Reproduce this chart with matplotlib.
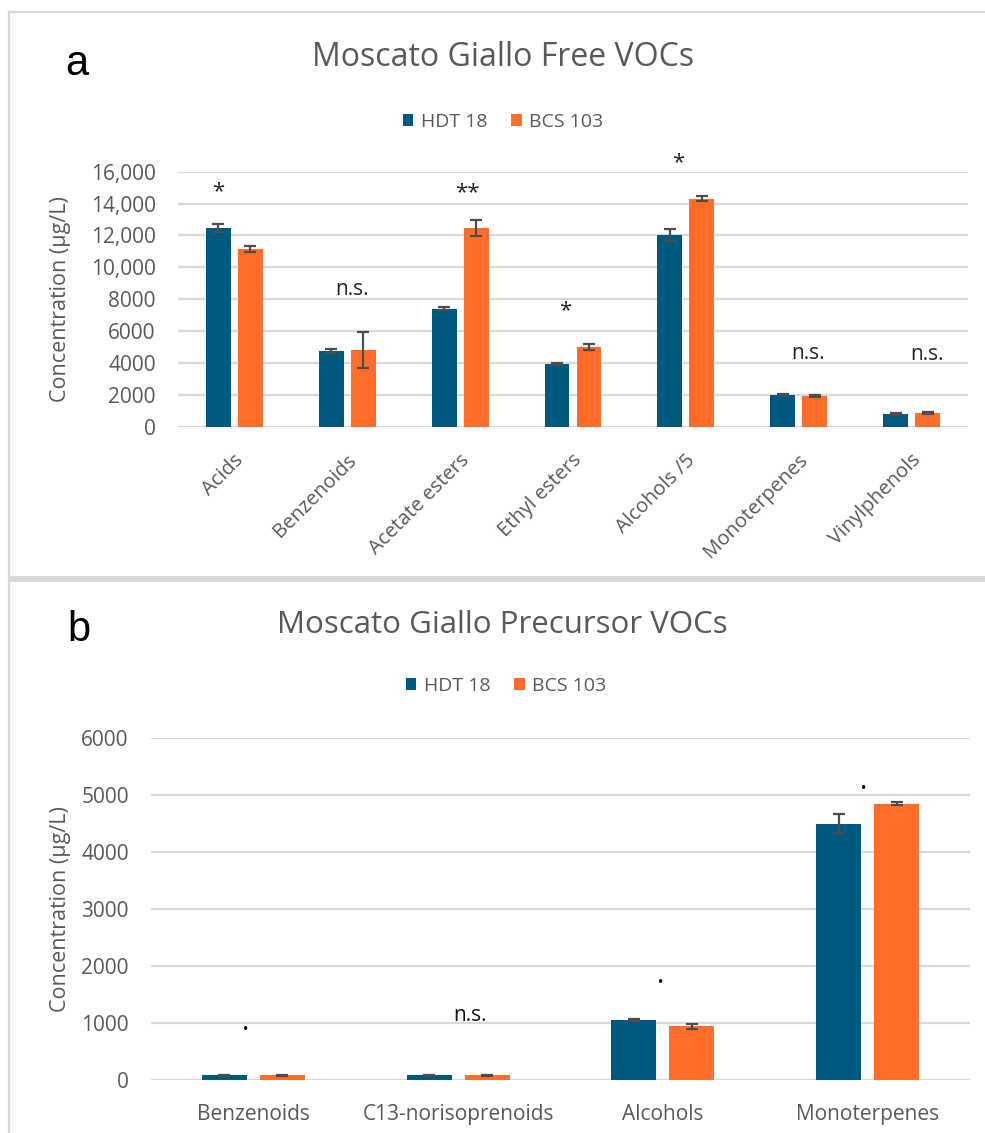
import matplotlib
matplotlib.use("Agg")
import matplotlib.pyplot as plt
import numpy as np
from matplotlib.patches import Patch, Rectangle
from matplotlib.lines import Line2D
from matplotlib.transforms import ScaledTranslation

# ---------------- data ----------------
cats_a = ["Acids", "Benzenoids", "Acetate esters", "Ethyl esters", "Alcohols /5", "Monoterpenes", "Vinylphenols"]
hdt_a = [12450, 4750, 7400, 3950, 12050, 2000, 800]
hdt_a_err = [250, 150, 80, 50, 380, 30, 40]
bcs_a = [11150, 4800, 12450, 5000, 14300, 1950, 860]
bcs_a_err = [200, 1130, 500, 170, 150, 60, 50]
sig_a = ["*", "n.s.", "**", "*", "*", "n.s.", "n.s."]
sig_a_y = [14750, 8580, 14700, 7300, 16580, 4620, 4500]
sig_a_x = [-0.14, 0.04, 0.06, -0.07, -0.07, 0.08, 0.14]

cats_b = ["Benzenoids", "C13-norisoprenoids", "Alcohols", "Monoterpenes"]
hdt_b = [80, 80, 1050, 4500]
hdt_b_err = [10, 10, 15, 160]
bcs_b = [80, 80, 940, 4850]
bcs_b_err = [12, 10, 50, 30]
sig_b = ["·", "n.s.", "·", "·"]
sig_b_y = [860, 1140, 1680, 5090]
sig_b_x = [-0.04, 0.06, -0.01, -0.02]

series = ["HDT 18", "BCS 103"]
colors = ["#005A80", "#FF6D28"]

W, H = 985, 1133
fig = plt.figure(figsize=(W / 100, H / 100), dpi=100)
fig.patch.set_facecolor("white")

FONT = "Open Sans"
GRAY = "#595959"
GRID = "#d9d9d9"


def fx(x):
    return x / W


def fy(y):
    return 1 - y / H


def make_axes(left, right, top, bottom):
    return fig.add_axes([fx(left), fy(bottom), fx(right) - fx(left), fy(top) - fy(bottom)])


def draw_bars(ax, cats, h, he, b, be, ymax, step, fmt):
    x = np.arange(len(cats))
    off, w = 0.142, 0.22
    ekw = dict(ecolor="#4d4d4d", elinewidth=1.6, capsize=4, capthick=1.6)
    ax.bar(x - off, h, w, color=colors[0], yerr=he, error_kw=ekw, zorder=3)
    ax.bar(x + off, b, w, color=colors[1], yerr=be, error_kw=ekw, zorder=3)
    ax.set_xlim(-0.5, len(cats) - 0.5)
    ax.set_ylim(0, ymax)
    ticks = np.arange(0, ymax + 1, step)
    ax.set_yticks(ticks)
    ax.set_yticklabels([fmt(t) for t in ticks], fontfamily=FONT, fontsize=15, color=GRAY)
    ax.yaxis.grid(True, color=GRID, linewidth=1.6, zorder=0)
    ax.set_axisbelow(True)
    for s in ax.spines.values():
        s.set_visible(False)
    ax.tick_params(axis="both", length=0)
    ax.tick_params(axis="y", pad=16)
    ax.set_xticks(x)
    return x


# ---------------- panel a ----------------
axa = make_axes(178, 968, 171.7, 426.7)
xa = draw_bars(axa, cats_a, hdt_a, hdt_a_err, bcs_a, bcs_a_err, 16000, 2000,
               lambda t: f"{int(t):,}" if t >= 10000 else f"{int(t)}")
axa.set_xticklabels(cats_a, rotation=45, ha="right", va="center", rotation_mode="anchor",
                    fontfamily=FONT, fontsize=14.5, color=GRAY)
axa.tick_params(axis="x", pad=22)
for lab in axa.get_xticklabels():
    lab.set_transform(lab.get_transform() + ScaledTranslation(0.06, 0, fig.dpi_scale_trans))
axa.set_ylabel("Concentration (μg/L)", fontfamily=FONT, fontsize=15.5, color=GRAY)
axa.yaxis.set_label_coords((71 - 178) / (968 - 178), 0.5)
for xi, s, yy, dx in zip(xa, sig_a, sig_a_y, sig_a_x):
    fs = 16 if "*" in s else 15
    axa.text(xi + dx, yy, s, ha="center", va="center", fontfamily=FONT, fontsize=fs, color="#222222")

fig.text(fx(503), fy(57), "Moscato Giallo Free VOCs", ha="center", va="center",
         fontfamily=FONT, fontsize=23, color=GRAY)
fig.text(fx(77), fy(64), "a", ha="center", va="center", fontfamily="Liberation Sans", fontsize=30, color="black")

handles = [Patch(facecolor=c, edgecolor="none", label=l) for c, l in zip(colors, series)]
leg_kw = dict(ncol=2, frameon=False, handlelength=0.55, handleheight=0.55, handletextpad=0.4,
              columnspacing=1.2, prop={"family": FONT, "size": 14})
la = fig.legend(handles=handles, loc="center", bbox_to_anchor=(fx(503), fy(122)), **leg_kw)
for t in la.get_texts():
    t.set_color(GRAY)

# ---------------- panel b ----------------
axb = make_axes(151, 970, 738, 1080)
xb = draw_bars(axb, cats_b, hdt_b, hdt_b_err, bcs_b, bcs_b_err, 6000, 1000, lambda t: f"{int(t)}")
axb.set_xticklabels(cats_b, fontfamily=FONT, fontsize=15, color=GRAY)
axb.tick_params(axis="x", pad=17)
axb.set_ylabel("Concentration (μg/L)", fontfamily=FONT, fontsize=15.5, color=GRAY)
axb.yaxis.set_label_coords((71 - 151) / (970 - 151), 0.5)
for xi, s, yy, dx in zip(xb, sig_b, sig_b_y, sig_b_x):
    axb.text(xi + dx, yy, s, ha="center", va="center", fontfamily=FONT,
             fontsize=15 if s == "n.s." else 20, color="#111111")

fig.text(fx(502), fy(625), "Moscato Giallo Precursor VOCs", ha="center", va="center",
         fontfamily=FONT, fontsize=22.5, color=GRAY)
fig.text(fx(79), fy(630), "b", ha="center", va="center", fontfamily="Liberation Sans", fontsize=30, color="black")
lb = fig.legend(handles=handles, loc="center", bbox_to_anchor=(fx(506), fy(686)), **leg_kw)
for t in lb.get_texts():
    t.set_color(GRAY)

# ---------------- frames ----------------
fig.add_artist(Line2D([fx(9), fx(9)], [fy(12), fy(1133)], color=GRID, linewidth=1.6))
fig.add_artist(Line2D([fx(9), fx(985)], [fy(12), fy(12)], color=GRID, linewidth=1.6))
fig.add_artist(Rectangle((fx(9), fy(582)), fx(985) - fx(9), fy(576) - fy(582),
                         facecolor=GRID, edgecolor="none", transform=fig.transFigure))

fig.savefig("out.png", dpi=100)
